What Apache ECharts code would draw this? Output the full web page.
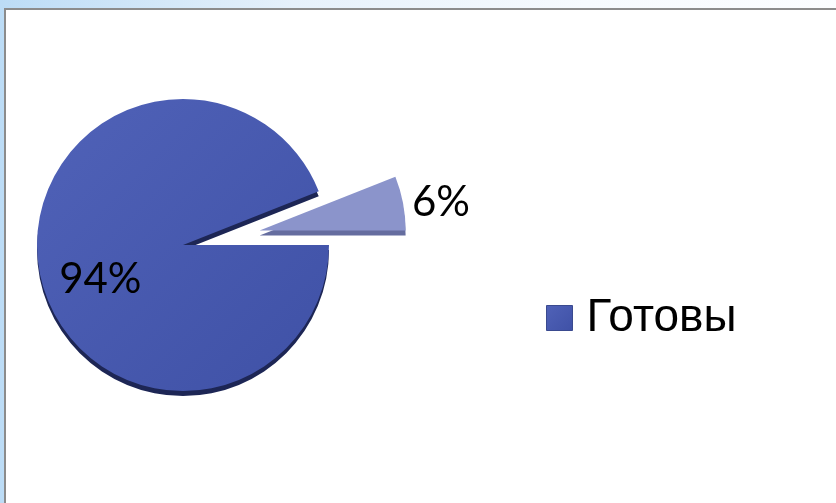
<!DOCTYPE html>
<html>
<head>
<meta charset="utf-8">
<script src="https://cdn.jsdelivr.net/npm/echarts@6/dist/echarts.min.js"></script>
<style>
html,body{margin:0;padding:0;width:836px;height:503px;overflow:hidden;}
body{background:linear-gradient(to right,#bcdcf6 0%,#e6f1fb 35%,#f6fafe 70%,#fbfdff 100%);position:relative;}
#frame{position:absolute;left:4px;top:8px;right:0;bottom:0;background:#fff;border-left:2px solid #8c8c8c;border-top:2px solid #8c8c8c;}
#chart{position:absolute;left:0;top:0;width:836px;height:503px;}
</style>
</head>
<body>
<div id="frame"></div>
<div id="chart"></div>
<script>
const categories = ['Готовы', 'Не готовы'];
const values = [94, 6];
const legendItems = ['Готовы'];

const chart = echarts.init(document.getElementById('chart'), null, {renderer: 'canvas'});

const mainColors = [
  new echarts.graphic.LinearGradient(0, 0, 1, 1, [{offset: 0, color: '#5062b8'}, {offset: 1, color: '#3f51a6'}]),
  '#8b94cb'
];
const sideColors = ['#1d2655', '#656d9f'];

const mainData = categories.map((c, i) => ({
  name: c, value: values[i], selected: i === 1,
  itemStyle: {color: mainColors[i]},
  label: i === 0
    ? {position: 'inner', offset: [-8, 20]}
    : {position: 'outside'}
}));
const sideData = categories.map((c, i) => ({
  name: c + ' ', value: values[i], selected: i === 1,
  itemStyle: {color: sideColors[i]}
}));

chart.setOption({
  animation: false,
  legend: {
    data: legendItems,
    left: 541, top: 290,
    itemWidth: 26, itemHeight: 25,
    icon: 'rect',
    itemStyle: {borderColor: '#3a4a8f', borderWidth: 1},
    textStyle: {fontFamily: 'Liberation Sans', fontSize: 46, color: '#000', padding: [0, 0, 0, 9]},
    selectedMode: false
  },
  series: [
    {
      type: 'pie', z: 2, silent: true,
      center: [183, 250], radius: 146,
      startAngle: 0, clockwise: true,
      selectedMode: 'single', selectedOffset: 78,
      label: {show: false}, labelLine: {show: false},
      data: sideData
    },
    {
      type: 'pie', z: 3,
      center: [183, 245], radius: 146,
      startAngle: 0, clockwise: true,
      selectedMode: 'single', selectedOffset: 78,
      avoidLabelOverlap: false,
      label: {
        show: true, formatter: '{c}%', color: '#000',
        fontFamily: 'Lato', fontSize: 42
      },
      labelLine: {show: false, length: 4, length2: 0},
      data: mainData
    }
  ]
});
</script>
</body>
</html>
